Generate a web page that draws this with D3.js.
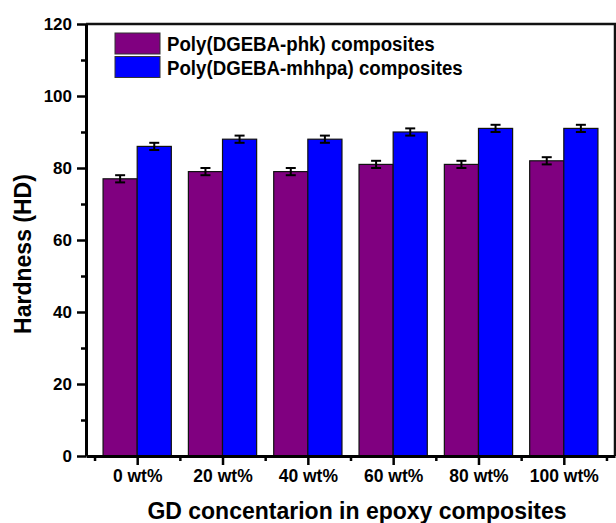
<!DOCTYPE html>
<html>
<head>
<meta charset="utf-8">
<style>
*{margin:0;padding:0;}
body{background:#fff;}
svg{display:block;font-family:Arial,"Liberation Sans",sans-serif;font-weight:bold;}
</style>
</head>
<body>
<script src="https://cdn.jsdelivr.net/npm/d3@7"></script>
<script>
// data
var categories = ["0 wt%", "20 wt%", "40 wt%", "60 wt%", "80 wt%", "100 wt%"];
var seriesNames = ["Poly(DGEBA-phk) composites", "Poly(DGEBA-mhhpa) composites"];
var phk = [77, 79, 79, 81, 81, 82];
var phkErr = [1, 1, 1, 1, 1, 1];
var mhhpa = [86, 88, 88, 90, 91, 91];
var mhhpaErr = [1, 1, 1, 1, 1, 1];
var yTicks = [0, 20, 40, 60, 80, 100, 120];

var width = 616, height = 523;
var margin = {top: 24, right: 1, bottom: 67, left: 86};
var colors = ["#800080", "#0000ff"];
var fontFam = "Arial,'Liberation Sans',sans-serif";

var svg = d3.select("body").append("svg")
  .attr("width", width).attr("height", height);

// x as a linear index scale, so half-step minor ticks fit
var x = d3.scaleLinear()
  .domain([-0.6, categories.length - 0.4])
  .range([margin.left, width - margin.right]);
var y = d3.scaleLinear()
  .domain([0, 120])
  .range([height - margin.bottom, margin.top]);

var step = x(1) - x(0);
var barW = step * 0.4;

var series = [
  {name: seriesNames[0], values: phk, err: phkErr, color: colors[0], off: -1},
  {name: seriesNames[1], values: mhhpa, err: mhhpaErr, color: colors[1], off: 0}
];

// bars
series.forEach(function(s){
  var g = svg.append("g").attr("class", "bars");
  g.selectAll("rect")
    .data(s.values)
    .join("rect")
    .attr("x", (d, i) => x(i) + s.off * barW)
    .attr("y", d => y(d))
    .attr("width", barW)
    .attr("height", d => y(0) - y(d))
    .attr("fill", s.color)
    .attr("stroke", "#111")
    .attr("stroke-width", 1.2);

  // error bars
  var eb = svg.append("g").attr("stroke", "#000").attr("stroke-width", 2);
  s.values.forEach(function(d, i){
    var cx = x(i) + s.off * barW + barW / 2;
    var e = s.err[i];
    eb.append("line").attr("x1", cx).attr("x2", cx).attr("y1", y(d + e)).attr("y2", y(d - e));
    eb.append("line").attr("x1", cx - 5).attr("x2", cx + 5).attr("y1", y(d + e)).attr("y2", y(d + e));
    eb.append("line").attr("x1", cx - 5).attr("x2", cx + 5).attr("y1", y(d - e)).attr("y2", y(d - e));
  });
});

// frame top and right
svg.append("path")
  .attr("d", `M${margin.left},${y(120)}H${width - margin.right}V${y(0)}`)
  .attr("fill", "none").attr("stroke", "#111").attr("stroke-width", 2.5);

// y axis
var yAxis = svg.append("g")
  .attr("transform", `translate(${margin.left},0)`)
  .call(d3.axisLeft(y).tickValues(yTicks).tickSize(9).tickPadding(5).tickSizeOuter(0));
svg.append("g")
  .attr("transform", `translate(${margin.left},0)`)
  .call(d3.axisLeft(y).tickValues(d3.range(10, 120, 20)).tickSize(5).tickFormat("").tickSizeOuter(0))
  .call(g => g.select(".domain").remove())
  .selectAll("line").attr("stroke-width", 2.5);
yAxis.select(".domain").attr("stroke-width", 3);
yAxis.selectAll("line").attr("stroke-width", 2.5);
yAxis.selectAll("text").attr("font-size", 17).attr("font-weight", "bold").attr("font-family", fontFam).attr("fill", "#000");

// x axis
var xAxis = svg.append("g")
  .attr("transform", `translate(0,${y(0)})`)
  .call(d3.axisBottom(x).tickValues(d3.range(categories.length)).tickFormat(i => categories[i]).tickSize(9).tickPadding(5).tickSizeOuter(0));
svg.append("g")
  .attr("transform", `translate(0,${y(0)})`)
  .call(d3.axisBottom(x).tickValues(d3.range(-0.5, categories.length, 1)).tickSize(5).tickFormat("").tickSizeOuter(0))
  .call(g => g.select(".domain").remove())
  .selectAll("line").attr("stroke-width", 2.5);
xAxis.select(".domain").attr("stroke-width", 3);
xAxis.selectAll("line").attr("stroke-width", 2.5);
xAxis.selectAll("text").attr("font-size", 17.5).attr("font-weight", "bold").attr("font-family", fontFam).attr("fill", "#000");

// axis titles
svg.append("text")
  .attr("transform", "translate(31,254) rotate(-90)")
  .attr("text-anchor", "middle")
  .attr("font-size", 23)
  .text("Hardness (HD)");
svg.append("text")
  .attr("x", 357)
  .attr("y", 519)
  .attr("text-anchor", "middle")
  .attr("font-size", 23)
  .text("GD concentarion in epoxy composites");

// legend
var legend = svg.append("g").attr("transform", "translate(115,33)");
series.forEach(function(s, i){
  var row = legend.append("g").attr("transform", `translate(0,${i * 23.5})`);
  row.append("rect").attr("width", 45).attr("height", 21)
    .attr("fill", s.color).attr("stroke", "#333").attr("stroke-width", 1);
  row.append("text")
    .attr("transform", "translate(52,18) scale(0.89,1)")
    .attr("font-size", 21).text(s.name);
});
</script>
</body>
</html>
